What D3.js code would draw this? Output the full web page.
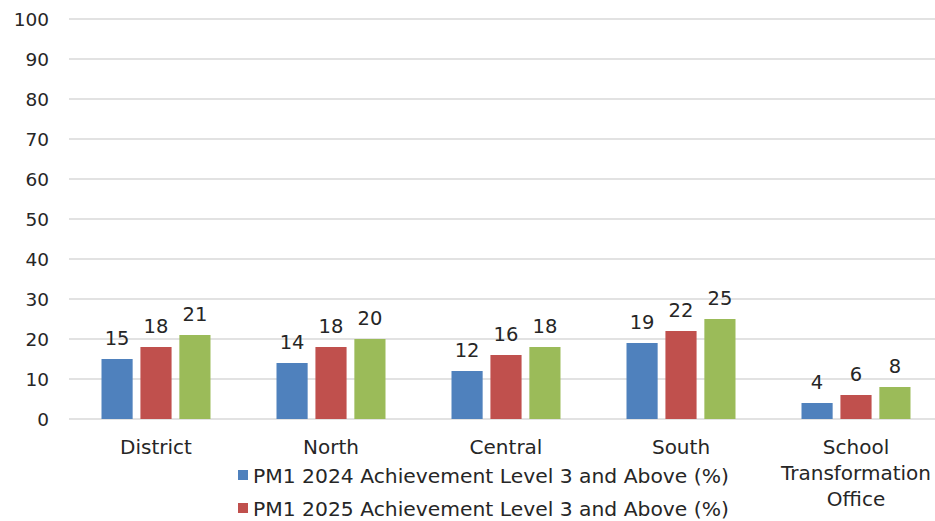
<!DOCTYPE html>
<html><head><meta charset="utf-8">
<script src="https://cdn.jsdelivr.net/npm/d3@7"></script>
<style>body{margin:0;background:#fff;}svg{display:block;font-family:"DejaVu Sans",sans-serif;}</style>
</head><body>
<svg id="c" width="935" height="521"></svg>
<script>
const categories = ["District", "North", "Central", "South", "School Transformation Office"];
const seriesNames = ["PM1 2024 Achievement Level 3 and Above (%)", "PM1 2025 Achievement Level 3 and Above (%)", "Series 3"];
const pm2024 = [15, 14, 12, 19, 4];
const pm2025 = [18, 18, 16, 22, 6];
const series3 = [21, 20, 18, 25, 8];
const yTicks = [0, 10, 20, 30, 40, 50, 60, 70, 80, 90, 100];
const colors = ["#4F81BD", "#C0504D", "#9BBB59"];

const seriesValues = [pm2024, pm2025, series3];
const svg = d3.select("#c");
const y = d3.scaleLinear().domain([0, 100]).range([419, 19]);
const x = d3.scaleBand().domain(categories).range([68.5, 943.5]);
const inner = d3.scaleBand().domain([0,1,2]).range([0, 109]).paddingInner(0.2);
const textColor = "#262626";

// gridlines
svg.append("g").selectAll("line").data(yTicks).join("line")
  .attr("x1", 69).attr("x2", 935)
  .attr("y1", d => y(d)).attr("y2", d => y(d))
  .attr("stroke", "#d9d9d9").attr("stroke-width", 1.3);

// y axis labels
const yAxis = d3.axisLeft(y).tickValues(yTicks).tickSize(0).tickPadding(0);
const ya = svg.append("g").attr("transform", "translate(49,0)").call(yAxis);
ya.select(".domain").remove();
ya.selectAll("text").attr("font-size", 18.5).attr("fill", textColor).attr("font-family", "DejaVu Sans").attr("dy", "0.35em");

// bars
const groups = svg.append("g").selectAll("g").data(categories).join("g")
  .attr("transform", c => `translate(${x(c) + x.bandwidth()/2 - 54.5},0)`);
groups.each(function(c, ci) {
  const g = d3.select(this);
  seriesValues.forEach((vals, si) => {
    g.append("rect").attr("x", inner(si)).attr("width", inner.bandwidth())
      .attr("y", y(vals[ci])).attr("height", y(0) - y(vals[ci]))
      .attr("fill", colors[si]);
    g.append("text").attr("x", inner(si) + inner.bandwidth()/2).attr("y", y(vals[ci]) - 14)
      .attr("text-anchor", "middle").attr("font-size", 19.5).attr("fill", textColor)
      .text(vals[ci]);
  });
});

// category labels
const xAxis = d3.axisBottom(x).tickSize(0).tickPadding(0);
const xa = svg.append("g").attr("transform", "translate(0,419)").call(xAxis);
xa.select(".domain").remove();
xa.selectAll("text").remove();
xa.selectAll(".tick").each(function(c) {
  const t = d3.select(this).append("text").attr("text-anchor", "middle")
    .attr("font-size", 20).attr("fill", textColor).attr("font-family", "DejaVu Sans");
  const lines = c === "School Transformation Office" ? ["School", "Transformation", "Office"] : [c];
  lines.forEach((l, i) => t.append("tspan").attr("x", 0).attr("y", 35 + i * 26).text(l));
});

// legend
const legend = svg.append("g").selectAll("g").data(seriesNames.slice(0, 2)).join("g")
  .attr("transform", (d, i) => `translate(238,${476 + i * 33})`);
legend.append("rect").attr("x", 0).attr("y", -6).attr("width", 10).attr("height", 10)
  .attr("fill", (d, i) => colors[i]);
legend.append("text").attr("x", 15).attr("y", 0).attr("dy", "0.35em")
  .attr("font-size", 20.3).attr("fill", textColor).text(d => d);
</script>
</body></html>
